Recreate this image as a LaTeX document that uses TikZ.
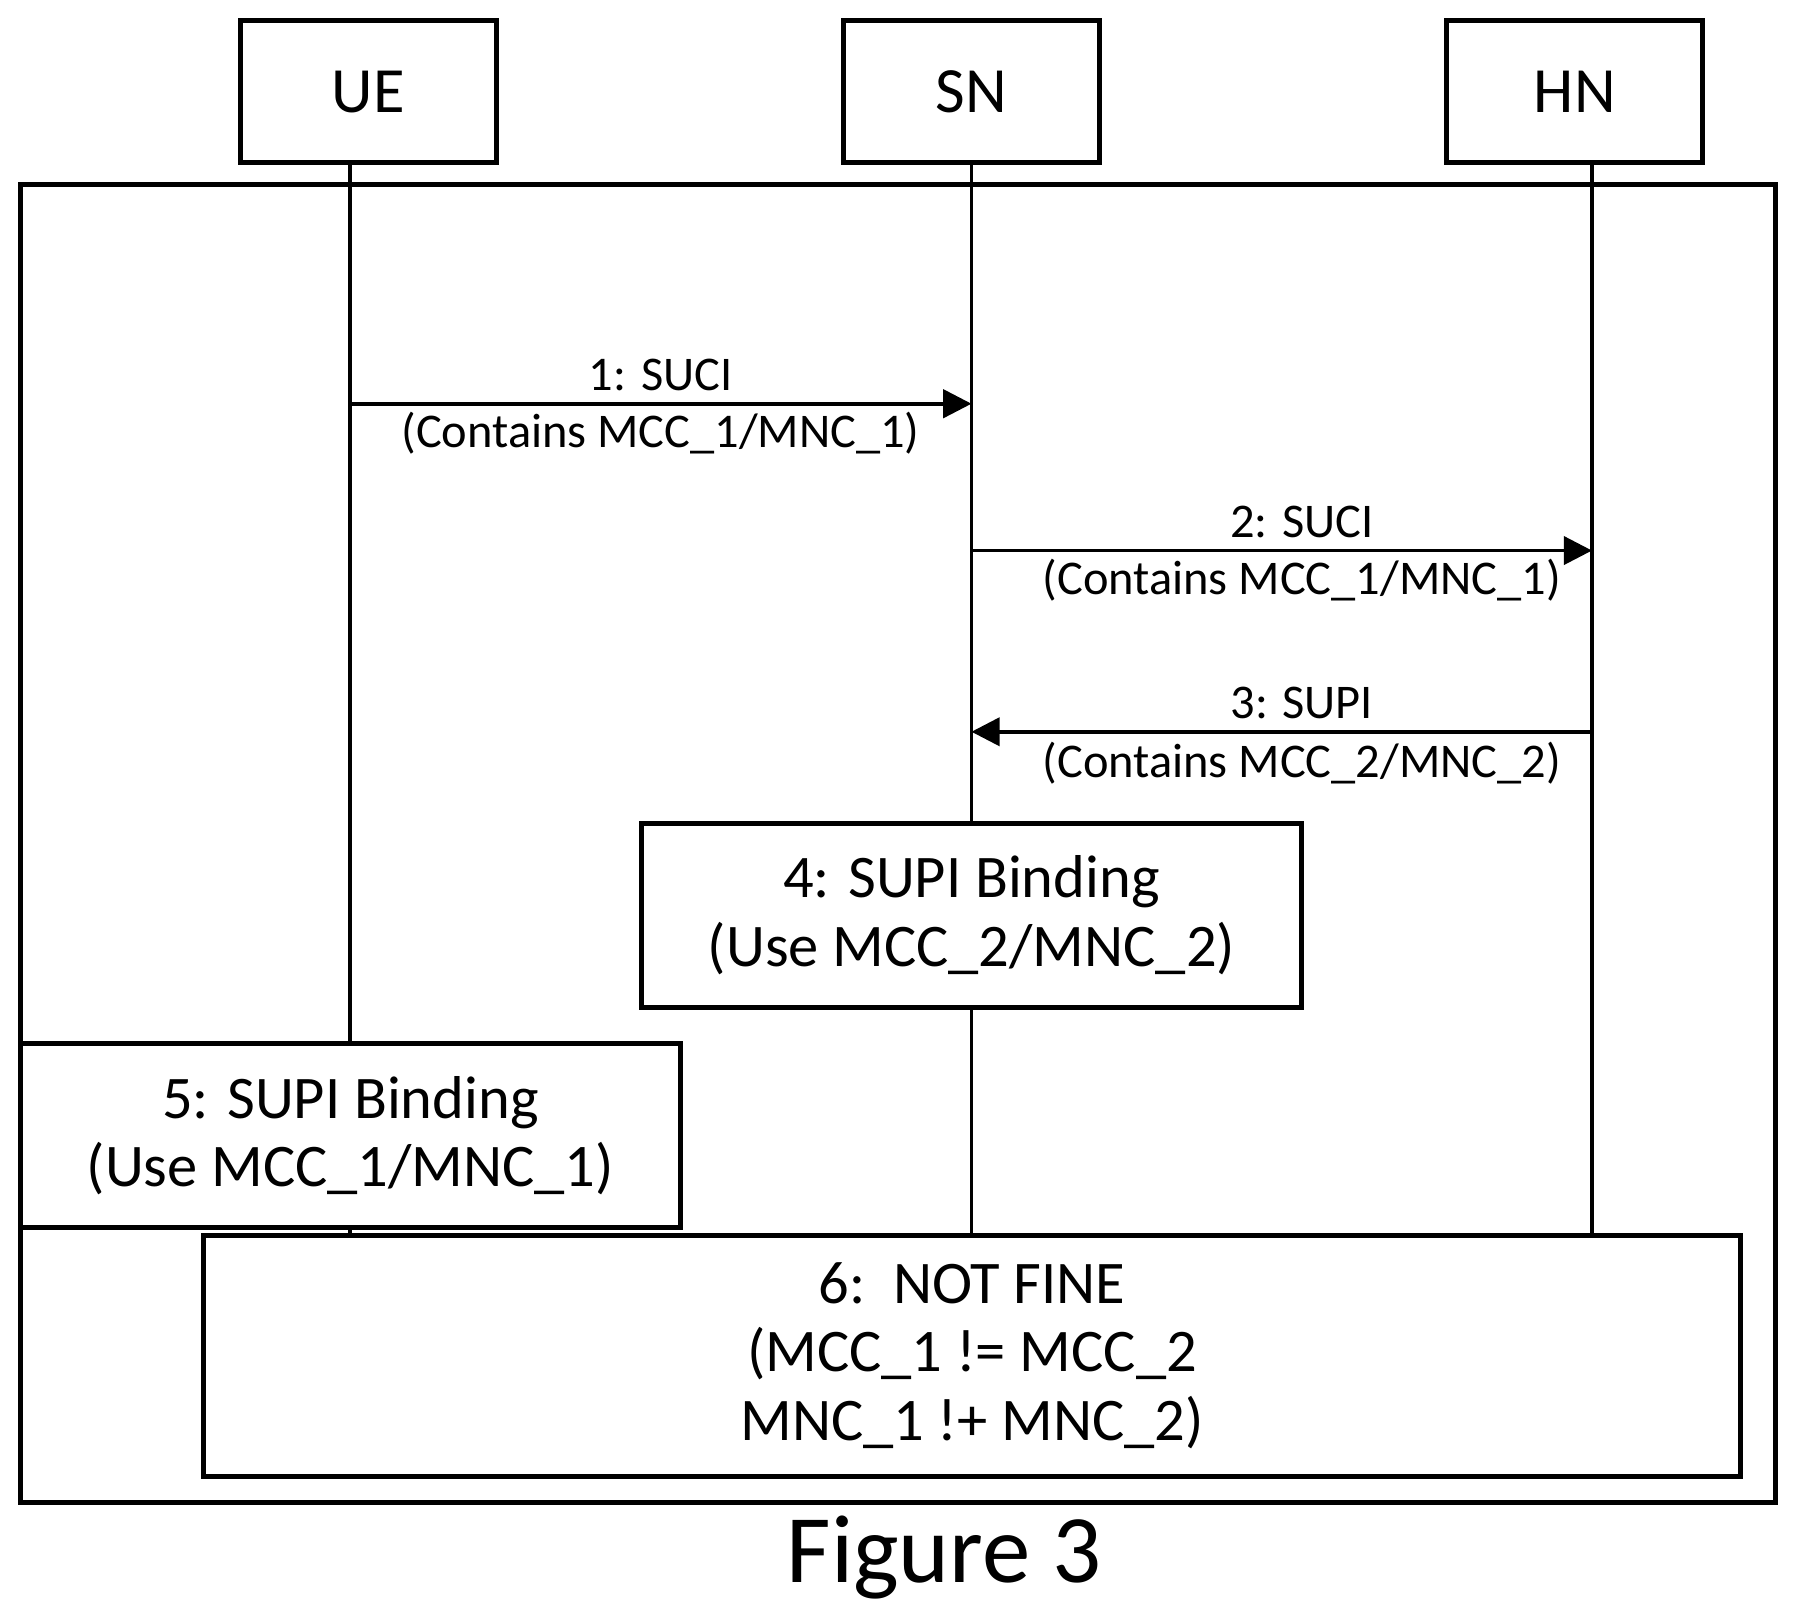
\documentclass[tikz,border=0pt]{standalone}
\usepackage{fontspec}
\setmainfont{Carlito}
\usetikzlibrary{arrows.meta,positioning}
\tikzset{
	entity/.style={draw,line width=1.2pt,minimum width=2.23cm,minimum height=1.24cm,font=\fontsize{16}{18}\selectfont},
	action/.style={draw,line width=1.2pt,align=center,font=\fontsize{15}{17}\selectfont},
	msg/.style={font=\fontsize{12}{14}\selectfont},
	lifeline/.style={line width=0.9pt},
	arrow/.style={line width=0.9pt,-{Triangle[length=7pt,width=7pt]}}
}
\begin{document}
\begin{tikzpicture}[x=0.01cm,y=-0.01cm]
	\useasboundingbox (0,0) rectangle (1565,1415);
	
	%% frame
	\draw[line width=1.2pt] (18,161) rectangle (1548,1310);
	
	%% entities
	\node[entity] (ue) at (321,80) {UE};
	\node[entity] (sn) at (847,80) {SN};
	\node[entity] (hn) at (1373,80) {HN};
	\coordinate (uex) at (305,142);
	\coordinate (snx) at (847,142);
	\coordinate (hnx) at (1388,142);
	
	%% actions
	\node[action,minimum width=5.75cm,minimum height=1.6cm] (bind4) at (847,798) {4: SUPI Binding\\(Use MCC\_2/MNC\_2)};
	\node[action,minimum width=5.75cm,minimum height=1.6cm] (bind5) at (305.5,990) {5: SUPI Binding\\(Use MCC\_1/MNC\_1)};
	\node[action,minimum width=13.39cm,minimum height=2.1cm] (fine6) at (847.5,1182) {6:\ \ NOT FINE\\(MCC\_1 != MCC\_2\\MNC\_1 !+ MNC\_2)};
	
	%% lifelines
	\draw[lifeline] (uex) -- (uex |- bind5.north);
	\draw[lifeline] (uex |- bind5.south) -- (uex |- fine6.north);
	\draw[lifeline] (snx) -- (bind4.north);
	\draw[lifeline] (bind4.south) -- (snx |- fine6.north);
	\draw[lifeline] (hnx) -- (hnx |- fine6.north);
	
	%% messages
	\coordinate (m1a) at (305,352);
	\coordinate (m1b) at (847,352);
	\draw[arrow] (m1a) -- (m1b);
	\node[msg] (m1t) at (576,327) {1: SUCI};
	\node[msg] (m1c) at (576,378) {(Contains MCC\_1/MNC\_1)};
	
	\coordinate (m2a) at (847,480);
	\coordinate (m2b) at (1388,480);
	\draw[arrow] (m2a) -- (m2b);
	\node[msg] (m2t) at (1135,455) {2: SUCI};
	\node[msg] (m2c) at (1135,506) {(Contains MCC\_1/MNC\_1)};
	
	\coordinate (m3a) at (1388,638);
	\coordinate (m3b) at (847,638);
	\draw[arrow] (m3a) -- (m3b);
	\node[msg] (m3t) at (1135,613) {3: SUPI};
	\node[msg] (m3c) at (1135,665) {(Contains MCC\_2/MNC\_2)};
	
	\node[font=\fontsize{24}{28}\selectfont] (cap) at (823,1358) {Figure 3};
\end{tikzpicture}
\end{document}
